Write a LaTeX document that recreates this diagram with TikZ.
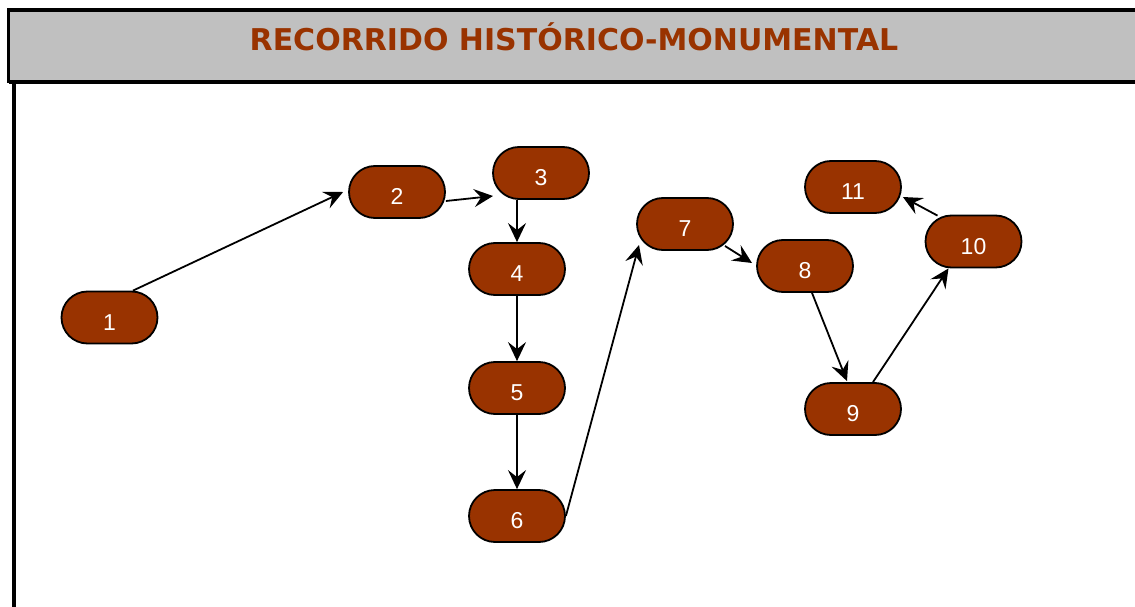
\documentclass[tikz,border=0pt]{standalone}
\usepackage{fontspec}
\setmainfont{Liberation Sans}
\newfontfamily\titlefont{DejaVu Sans}
\usetikzlibrary{shapes.misc,arrows.meta,calc}
\definecolor{brick}{HTML}{993300}
\definecolor{hdrgray}{HTML}{C0C0C0}
\begin{document}
\begin{tikzpicture}[x=1pt,y=-1pt,
  stop/.style={rounded rectangle, draw=black, line width=1.8pt, fill=brick,
    minimum width=96pt, minimum height=52pt, inner sep=0pt, text=white,
    text height=25.5pt, text depth=0pt, font=\fontsize{23}{23}\selectfont},
  conn/.style={-{Stealth[length=19pt,width=18pt,inset=7pt]}, line width=1.8pt}]
\useasboundingbox (0,0) rectangle (1135,607);
\clip (0,0) rectangle (1135,607);
% frame
\draw[line width=3.5pt, fill=hdrgray] (8.5,9.8) rectangle (1150,81.5);
\draw[line width=4.5pt] (8.5,82) -- (1150,82);
\draw[line width=3.5pt] (14,82) -- (14,620);
\node[anchor=base, text=brick, font=\titlefont\bfseries\fontsize{30}{30}\selectfont] (title) at (574,51) {RECORRIDO HISTÓRICO-MONUMENTAL};
% stops
\node[stop] (n1) at (109.5,317.5) {1};
\node[stop] (n2) at (397,192) {2};
\node[stop] (n3) at (541,173) {3};
\node[stop] (n4) at (517,269) {4};
\node[stop] (n5) at (517,388) {5};
\node[stop] (n6) at (517,516) {6};
\node[stop] (n7) at (685,224) {7};
\node[stop] (n8) at (805,266) {8};
\node[stop] (n9) at (853,409) {9};
\node[stop] (n10) at (973.5,241.5) {10};
\node[stop] (n11) at (853,187) {11};
% connectors
\draw[conn] ([xshift=23.5pt]n1.north) -- ([xshift=-5pt]n2.west);
\draw[conn] ([yshift=-9pt]n2.east) -- ([xshift=-48pt,yshift=-23pt]n3.center);
\draw[conn] (n3.south -| n4.north) -- (n4.north);
\draw[conn] (n4.south) -- (n5.north);
\draw[conn] (n5.south) -- (n6.north);
\draw[conn] (n6.east) -- ([xshift=-46pt,yshift=-21pt]n7.center);
\draw[conn] ([xshift=40pt,yshift=-22pt]n7.center) -- ([xshift=-53pt,yshift=3pt]n8.center);
\draw[conn] ([xshift=7pt]n8.south) -- ([xshift=-6pt,yshift=1pt]n9.north);
\draw[conn] ([xshift=20pt]n9.north) -- ([xshift=-25pt]n10.south);
\draw[conn] ([xshift=-36pt,yshift=-1pt]n10.north) -- ([xshift=1pt,yshift=-10pt]n11.east);
\end{tikzpicture}
\end{document}
